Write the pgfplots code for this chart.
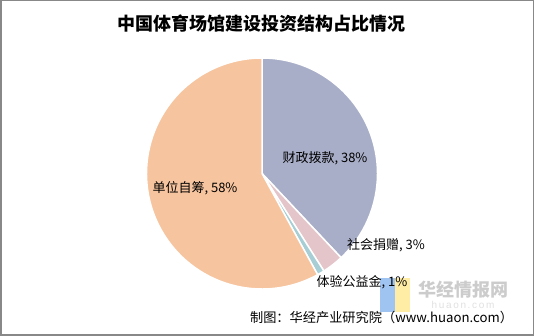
\documentclass[border=0pt]{standalone}
\usepackage{pgfplots}
\pgfplotsset{compat=1.18}
\usepackage{pgfplotstable}
\usepackage{fontspec}
\setmainfont{Noto Sans CJK SC}
\newfontfamily\latin{Liberation Sans}
\definecolor{cA}{RGB}{169,174,200}
\definecolor{cB}{RGB}{228,198,202}
\definecolor{cC}{RGB}{166,206,212}
\definecolor{cD}{RGB}{246,196,158}
\definecolor{frame}{RGB}{136,136,136}
\definecolor{wmblue}{RGB}{160,196,242}
\definecolor{wmyellow}{RGB}{255,236,165}
% values in percent, drawn clockwise from 12 o'clock
\pgfplotstableread{
name value
A 38
B 3
C 1
D 58
}\piedata
\begin{document}
\begin{tikzpicture}
\begin{axis}[
  scale only axis, width=534pt, height=336pt,
  xmin=0, xmax=534, ymin=0, ymax=336,
  hide axis, clip=false,
]
\def\cx{262}\def\cy{162.5}\def\r{115.5}
\pgfplotstablegetelem{0}{value}\of\piedata \let\va\pgfplotsretval
\pgfplotstablegetelem{1}{value}\of\piedata \let\vb\pgfplotsretval
\pgfplotstablegetelem{2}{value}\of\piedata \let\vc\pgfplotsretval
\pgfplotstablegetelem{3}{value}\of\piedata \let\vd\pgfplotsretval
\pgfmathsetmacro\aA{90}
\pgfmathsetmacro\aB{90-\va*3.6}
\pgfmathsetmacro\aC{\aB-\vb*3.6}
\pgfmathsetmacro\aD{\aC-\vc*3.6}
\pgfmathsetmacro\aE{\aD-\vd*3.6}
\edef\doslices{%
\noexpand\filldraw[fill=cA,draw=white,line width=1.5pt,line join=round] (axis cs:\cx,\cy) -- (axis cs:{\cx+\r*cos(\aA)},{\cy+\r*sin(\aA)}) arc[start angle=\aA,end angle=\aB,radius=\r] -- cycle;
\noexpand\filldraw[fill=cB,draw=white,line width=1.5pt,line join=round] (axis cs:\cx,\cy) -- (axis cs:{\cx+\r*cos(\aB)},{\cy+\r*sin(\aB)}) arc[start angle=\aB,end angle=\aC,radius=\r] -- cycle;
\noexpand\filldraw[fill=cC,draw=white,line width=1.5pt,line join=round] (axis cs:\cx,\cy) -- (axis cs:{\cx+\r*cos(\aC)},{\cy+\r*sin(\aC)}) arc[start angle=\aC,end angle=\aD,radius=\r] -- cycle;
\noexpand\filldraw[fill=cD,draw=white,line width=1.5pt,line join=round] (axis cs:\cx,\cy) -- (axis cs:{\cx+\r*cos(\aD)},{\cy+\r*sin(\aD)}) arc[start angle=\aD,end angle=\aE,radius=\r] -- cycle;
}
\doslices
% frame
\draw[frame,line width=1.5pt] (axis cs:0.75,0.75) rectangle (axis cs:533.25,335.25);
% title
\node[font=\fontsize{18}{20}\selectfont\bfseries] at (axis cs:261,312) {中国体育场馆建设投资结构占比情况};
% labels
\node[font=\fontsize{13}{15}\selectfont] at (axis cs:325,178) {财政拨款, 38\%};
\node[font=\fontsize{13}{15}\selectfont] at (axis cs:195,148) {单位自筹, 58\%};
\node[font=\fontsize{13}{15}\selectfont] at (axis cs:386,91) {社会捐赠, 3\%};
% watermark
\fill[wmblue] (axis cs:380,24) rectangle (axis cs:395,58);
\fill[wmyellow] (axis cs:395,24) rectangle (axis cs:410,58);
\node[font=\fontsize{18}{20}\selectfont\bfseries,text=black!20] at (axis cs:463,46) {华经情报网};
\node[font=\fontsize{10}{12}\selectfont\latin,text=black!12] at (axis cs:463,31) {h\,u\,a\,o\,n\,.\,c\,o\,m};
\node[font=\fontsize{13}{15}\selectfont] at (axis cs:362,54) {体验公益金, 1\%};
% source
\node[font=\fontsize{13.2}{15}\selectfont] at (axis cs:381.5,19) {制图：华经产业研究院（www.huaon.com）};
\end{axis}
\pgfresetboundingbox
\path[use as bounding box] (0,0) rectangle (534pt,336pt);
\end{tikzpicture}
\end{document}
